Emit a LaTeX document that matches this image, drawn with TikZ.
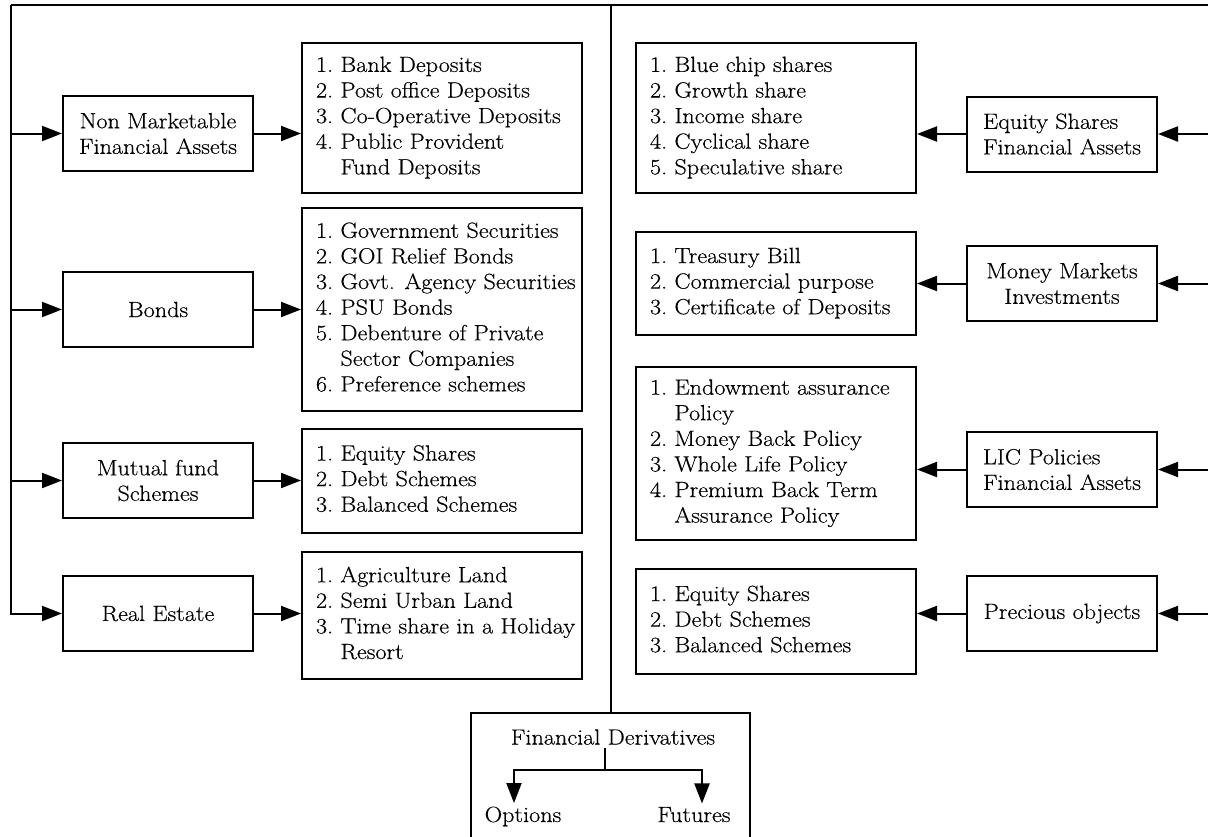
\documentclass[tikz,border=0pt]{standalone}
\usepackage{fontspec}
\setmainfont{Latin Modern Roman}[FakeStretch=1.10,FakeBold=0.4]
\usetikzlibrary{arrows.meta}
\newcommand{\itemlist}[1]{\makebox[252pt][l]{\begin{tabular}{@{}l@{\ }l@{}}#1\end{tabular}}}

\begin{document}
\begin{tikzpicture}[x=1pt,y=-1pt,font=\fontsize{22}{25.6}\selectfont,
		wire/.style={line width=2pt},
		arr/.style={-{Triangle[length=20pt,width=15pt]}},
		headbox/.style={draw,line width=2pt,minimum width=190pt,minimum height=75pt,inner sep=0pt},
		listbox/.style={draw,line width=2pt,minimum width=280pt,inner xsep=14pt,inner ysep=0pt}]
		\useasboundingbox (0,0) rectangle (1208,836);
		\node[headbox,align=center] (nm) at (158,133.5) {Non Marketable\\Financial Assets};
		\node[headbox,align=center] (bonds) at (158,309.5) {Bonds};
		\node[headbox,align=center] (mutual) at (158,480.5) {Mutual fund\\Schemes};
		\node[headbox,align=center] (realestate) at (158,613.5) {Real Estate};
		\node[listbox,minimum height=150pt] (deposits) at (442,118) {\itemlist{1. & Bank Deposits\\ 2. & Post office Deposits\\ 3. & Co-Operative Deposits\\ 4. & Public Provident\\ & Fund Deposits}};
		\node[listbox,minimum height=203pt] (securities) at (442,309.5) {\itemlist{1. & Government Securities\\ 2. & GOI Relief Bonds\\ 3. & Govt. Agency Securities\\ 4. & PSU Bonds\\ 5. & Debenture of Private\\ & Sector Companies\\ 6. & Preference schemes}};
		\node[listbox,minimum height=104pt] (schemes) at (442,481) {\itemlist{1. & Equity Shares\\ 2. & Debt Schemes\\ 3. & Balanced Schemes}};
		\node[listbox,minimum height=127pt] (land) at (442,615.5) {\itemlist{1. & Agriculture Land\\ 2. & Semi Urban Land\\ 3. & Time share in a Holiday\\ & Resort}};
		\node[headbox,align=left] (equity) at (1062,134) {Equity Shares\\Financial Assets};
		\node[headbox,align=center] (money) at (1062,283.5) {Money Markets\\Investments};
		\node[headbox,align=left] (lic) at (1062,469.5) {LIC Policies\\Financial Assets};
		\node[headbox,align=center] (precious) at (1062,613.5) {Precious objects};
		\node[listbox,minimum height=150pt] (shares) at (776,118) {\itemlist{1. & Blue chip shares\\ 2. & Growth share\\ 3. & Income share\\ 4. & Cyclical share\\ 5. & Speculative share}};
		\node[listbox,minimum height=103pt] (bills) at (776,283.5) {\itemlist{1. & Treasury Bill\\ 2. & Commercial purpose\\ 3. & Certificate of Deposits}};
		\node[listbox,minimum height=173pt] (policies) at (776,453.5) {\itemlist{1. & Endowment assurance\\ & Policy\\ 2. & Money Back Policy\\ 3. & Whole Life Policy\\ 4. & Premium Back Term\\ & Assurance Policy}};
		\node[listbox,minimum height=105pt] (objects) at (776,621.5) {\itemlist{1. & Equity Shares\\ 2. & Debt Schemes\\ 3. & Balanced Schemes}};
		\node[draw,line width=2pt,minimum width=279pt,minimum height=130pt] (fdbox) at (610.5,778) {};
		\node (fdtitle) at (613,737) {Financial Derivatives};
		\node[anchor=base] (options) at (523,822) {Options};
		\node[anchor=base] (futures) at (694,822) {Futures};
		\coordinate (tl) at (11,5);
		\coordinate (tr) at (1214,5);
		\coordinate (fork) at (605,770);
		\draw[wire] (tl)--(tr);
		\draw[wire] (fdbox.north |- tl)--(fdbox.north);
		\draw[wire,arr] (tl) |- (realestate);
		\foreach \n in {nm,bonds,mutual} \draw[wire,arr] (tl |- \n)--(\n);
		\draw[wire,arr] (tr) |- (precious);
		\foreach \n in {equity,money,lic} \draw[wire,arr] (tr |- \n)--(\n);
		\draw[wire,arr] (nm)--(nm -| deposits.west);
		\draw[wire,arr] (bonds)--(bonds -| securities.west);
		\draw[wire,arr] (mutual)--(mutual -| schemes.west);
		\draw[wire,arr] (realestate)--(realestate -| land.west);
		\draw[wire,arr] (equity)--(equity -| shares.east);
		\draw[wire,arr] (money)--(money -| bills.east);
		\draw[wire,arr] (lic)--(lic -| policies.east);
		\draw[wire,arr] (precious)--(precious -| objects.east);
		\draw[wire] (fdtitle.south -| fork)--(fork);
		\draw[wire,arr] (fork) -| ([xshift=-9pt]options.north);
		\draw[wire,arr] (fork) -| ([xshift=8pt]futures.north);
	\end{tikzpicture}
\end{document}
